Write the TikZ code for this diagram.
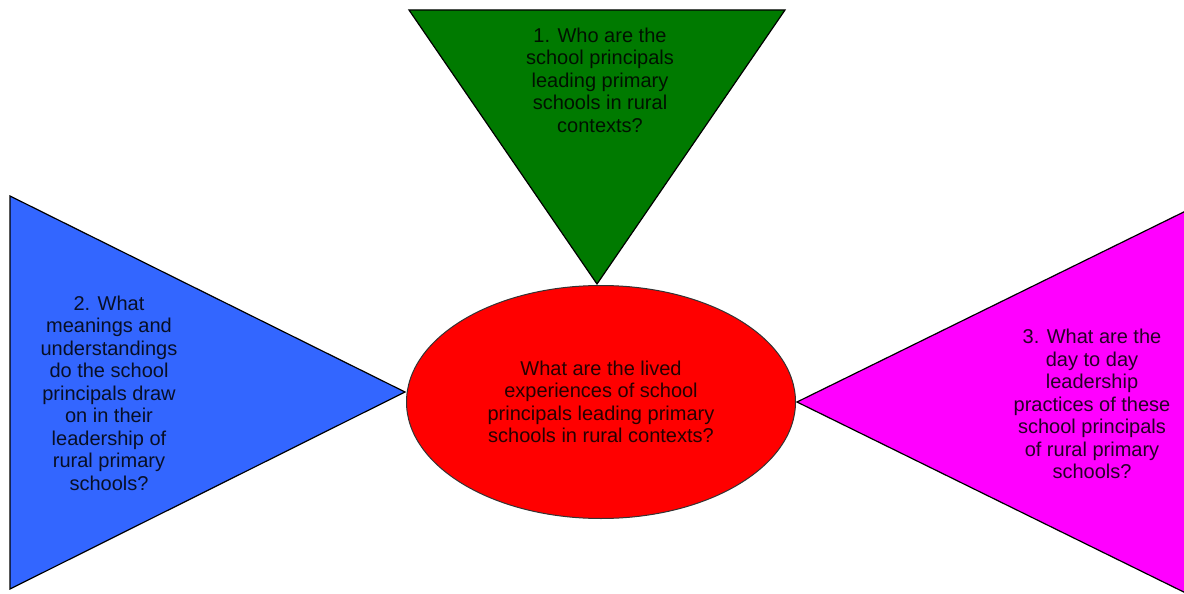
\documentclass[tikz,border=0pt]{standalone}
\usepackage{fontspec}
\setmainfont{Liberation Sans}
\usetikzlibrary{shapes.geometric}
\usetikzlibrary{positioning}

\definecolor{qgreen}{RGB}{0,122,0}
\definecolor{qblue}{RGB}{51,102,255}
\definecolor{qmagenta}{RGB}{255,0,255}
\definecolor{qred}{RGB}{255,0,0}

\begin{document}
\begin{tikzpicture}[x = 1pt, y = -1pt, line width = 1.2pt,
    question/.style = {align = center, font = \fontsize{20}{22.5}\selectfont,
                       text = black, text opacity = 0.85, inner sep = 0pt}]

    \useasboundingbox (0,0) rectangle (1184,594);
    \clip (0,0) rectangle (1184,594);

    \def\Top{10}
    \def\Edge{10}

    \coordinate (ApexI)   at (597,284);
    \coordinate (ApexII)  at (405,392);
    \coordinate (ApexIII) at (797,402);

    % the three question triangles
    \filldraw[fill = qgreen]   (409,\Top) -- (785,\Top) -- (ApexI) -- cycle;
    \filldraw[fill = qblue]    (\Edge,196) -- (ApexII) -- (\Edge,589) -- cycle;
    \filldraw[fill = qmagenta] (1200,204) -- (ApexIII) -- (1200,600) -- cycle;

    % central question
    \node[ellipse, draw = black!80, line width = 1pt, fill = qred, question,
          minimum width = 389pt, minimum height = 233pt] (Core) at (601,402)
        {What are the lived\\experiences of school\\principals leading primary\\schools in rural contexts?};

    \node[question] (QI) at (600,80)
        {1. Who are the\\school principals\\leading primary\\schools in rural\\contexts?};
    \node[question] (QII) at (109,393)
        {2. What\\meanings and\\understandings\\do the school\\principals draw\\on in their\\leadership of\\rural primary\\schools?};
    \node[question] (QIII) at (1092,404)
        {3. What are the\\day to day\\leadership\\practices of these\\school principals\\of rural primary\\schools?};

\end{tikzpicture}
\end{document}
